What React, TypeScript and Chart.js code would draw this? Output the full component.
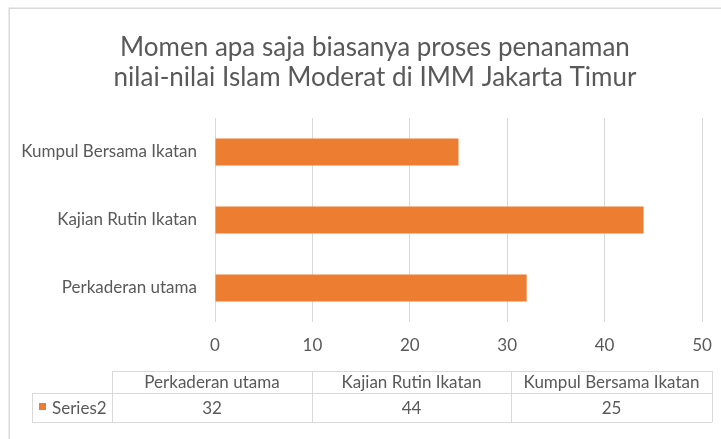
import React, { useEffect, useRef } from "react";
import { Chart, registerables } from "chart.js";

Chart.register(...registerables);

const categories = ["Perkaderan utama", "Kajian Rutin Ikatan", "Kumpul Bersama Ikatan"];
const seriesName = "Series2";
const seriesValues = [32, 44, 25];
const titleLines = ["Momen apa saja biasanya proses penanaman", "nilai-nilai Islam Moderat di IMM Jakarta Timur"];
const xMin = 0;
const xMax = 50;
const xStep = 10;

const FONT = "Lato, Carlito, 'Open Sans', sans-serif";
const TEXT = "#595959";
const LINE = "#d9d9d9";
const BAR = "#ED7D31";

const decorPlugin = {
  id: "decor",
  beforeDraw(chart: any) {
    const ctx = chart.ctx;
    ctx.save();
    ctx.fillStyle = "#ffffff";
    ctx.fillRect(0, 0, chart.width, chart.height);
    ctx.strokeStyle = LINE;
    ctx.lineWidth = 1.5;
    ctx.strokeRect(9.25, 8.25, chart.width + 50, chart.height + 50);
    ctx.restore();
  },
  afterDraw(chart: any) {
    const ctx = chart.ctx;
    ctx.save();
    // title
    ctx.fillStyle = TEXT;
    ctx.font = `26px ${FONT}`;
    ctx.textAlign = "center";
    ctx.textBaseline = "alphabetic";
    titleLines.forEach((t, i) => ctx.fillText(t, 375, 56 + i * 30));

    // data table
    const cols = [32, 112, 312, 511, 712];
    const top = 371;
    const mid = 393;
    const bot = 422;
    ctx.strokeStyle = LINE;
    ctx.lineWidth = 1;
    ctx.beginPath();
    ctx.moveTo(cols[1], top + 0.5);
    ctx.lineTo(cols[4], top + 0.5);
    ctx.moveTo(cols[0], mid + 0.5);
    ctx.lineTo(cols[4], mid + 0.5);
    ctx.moveTo(cols[0], bot + 0.5);
    ctx.lineTo(cols[4], bot + 0.5);
    ctx.moveTo(cols[0] + 0.5, mid);
    ctx.lineTo(cols[0] + 0.5, bot);
    for (let i = 1; i < cols.length; i++) {
      ctx.moveTo(cols[i] + 0.5, top);
      ctx.lineTo(cols[i] + 0.5, bot);
    }
    ctx.stroke();

    ctx.fillStyle = TEXT;
    ctx.font = `17px ${FONT}`;
    ctx.textAlign = "center";
    ctx.textBaseline = "middle";
    categories.forEach((c, i) => {
      const cx = (cols[i + 1] + cols[i + 2]) / 2;
      ctx.fillText(c, cx, (top + mid) / 2 + 1);
      ctx.fillText(String(seriesValues[i]), cx, (mid + bot) / 2 + 1);
    });
    ctx.fillStyle = BAR;
    ctx.fillRect(39, 403, 7, 7);
    ctx.fillStyle = TEXT;
    ctx.textAlign = "left";
    ctx.fillText(seriesName, 52, (mid + bot) / 2 + 1);
    ctx.restore();
  },
};

export default function App() {
  const ref = useRef<HTMLCanvasElement | null>(null);
  useEffect(() => {
    if (!ref.current) return;
    const chart = new Chart(ref.current, {
      type: "bar",
      data: {
        labels: categories,
        datasets: [
          {
            label: seriesName,
            data: seriesValues,
            backgroundColor: BAR,
            borderWidth: 0,
            categoryPercentage: 1,
            barPercentage: 0.4,
          },
        ],
      },
      options: {
        indexAxis: "y",
        responsive: false,
        animation: false,
        devicePixelRatio: 1,
        layout: { padding: { left: 10, right: 19, top: 118, bottom: 77 } },
        plugins: {
          legend: { display: false },
          title: { display: false },
          tooltip: { enabled: false },
        },
        scales: {
          x: {
            min: xMin,
            max: xMax,
            ticks: {
              stepSize: xStep,
              color: TEXT,
              font: { family: FONT, size: 17 },
              padding: 13,
            },
            grid: { color: LINE, drawTicks: false, lineWidth: 1 },
            border: { display: false },
            afterFit(scale: any) {
              scale.height = 40;
              scale.paddingLeft = 0;
              scale.paddingRight = 0;
            },
          },
          y: {
            reverse: true,
            ticks: {
              color: TEXT,
              font: { family: FONT, size: 17 },
              padding: 18,
            },
            grid: { display: false, drawTicks: false },
            border: { display: false },
            afterFit(scale: any) {
              scale.width = 205;
              scale.paddingTop = 0;
              scale.paddingBottom = 0;
            },
          },
        },
      },
      plugins: [decorPlugin],
    } as any);
    return () => chart.destroy();
  }, []);
  return (
    <div style={{ position: "absolute", left: 0, top: 0, width: 721, height: 439 }}>
      <canvas ref={ref} width={721} height={439} style={{ width: 721, height: 439, display: "block" }} />
    </div>
  );
}
